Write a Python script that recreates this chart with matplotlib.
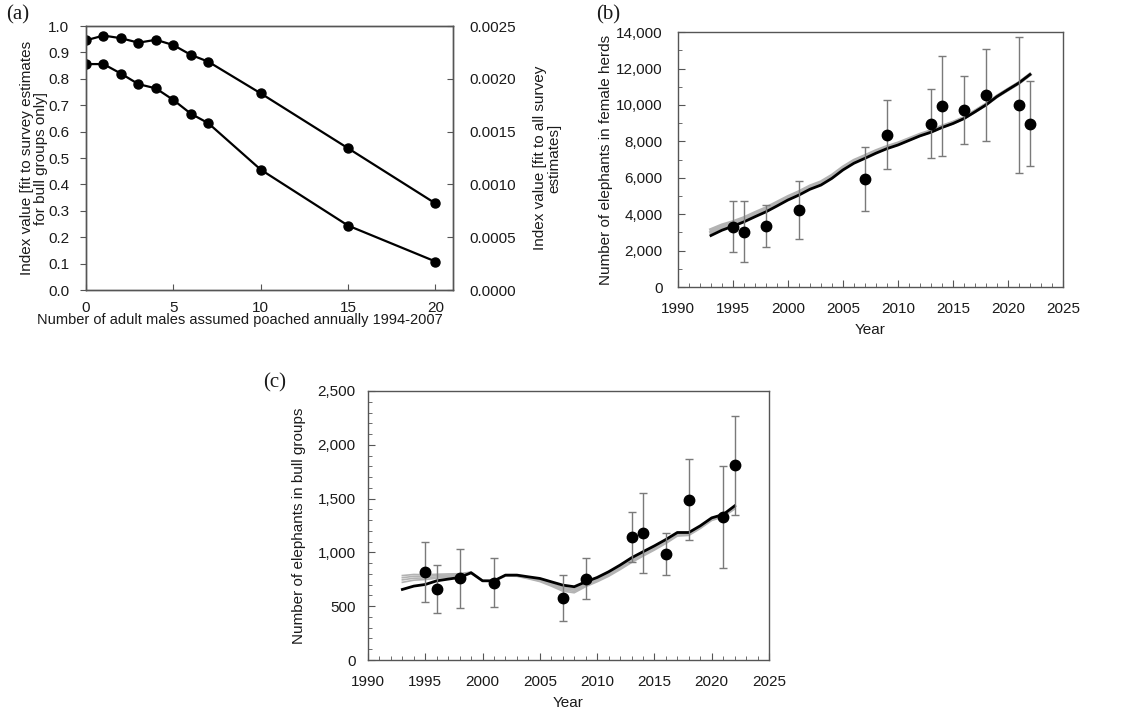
import matplotlib
matplotlib.use("Agg")
import matplotlib.pyplot as plt
from matplotlib.ticker import MultipleLocator, FuncFormatter

plt.rcParams['font.family'] = ['Liberation Sans', 'DejaVu Sans']
plt.rcParams['font.size'] = 11

# ---- (a) index value vs assumed poaching ----
poached = [0, 1, 2, 3, 4, 5, 6, 7, 10, 15, 20]
index_bull = [0.946, 0.964, 0.954, 0.937, 0.948, 0.928, 0.891, 0.865, 0.745, 0.537, 0.328]
index_all = [0.00214, 0.00214, 0.00205, 0.00195, 0.00191, 0.00180,
             0.00167, 0.00158, 0.00114, 0.00061, 0.00027]

# ---- model years ----
years = list(range(1993, 2023))

# ---- (b) female herds ----
fem_model = [2830, 3120, 3340, 3580, 3860, 4130, 4450, 4780, 5050, 5370,
             5600, 5970, 6430, 6800, 7070, 7350, 7600, 7800, 8050, 8300,
             8500, 8760, 8980, 9250, 9620, 10000, 10460, 10840, 11210, 11670]
fem_alt1 = [3150, 3400, 3580, 3800, 4080, 4340, 4650, 4960, 5230, 5540,
            5770, 6130, 6580, 6950, 7210, 7480, 7710, 7900, 8140, 8380,
            8580, 8830, 9040, 9300, 9660, 10030, 10470, 10850, 11210, 11670]
fem_alt2 = [3000, 3270, 3470, 3700, 3970, 4240, 4560, 4880, 5150, 5460,
            5690, 6060, 6510, 6880, 7140, 7420, 7660, 7850, 8100, 8340,
            8540, 8800, 9010, 9280, 9640, 10020, 10470, 10840, 11210, 11670]
fem_years = [1995, 1996, 1998, 2001, 2007, 2009, 2013, 2014, 2016, 2018, 2021, 2022]
fem_est = [3290, 3020, 3330, 4250, 5920, 8360, 8980, 9940, 9740, 10530, 9980, 8980]
fem_lo = [1900, 1350, 2190, 2630, 4160, 6470, 7090, 7200, 7880, 8030, 6290, 6650]
fem_hi = [4720, 4720, 4530, 5850, 7700, 10250, 10880, 12710, 11590, 13080, 13740, 11300]

# ---- (c) bull groups ----
bull_model = [656, 687, 702, 736, 752, 767, 811, 736, 736, 789,
              789, 773, 758, 727, 696, 681, 727, 767, 820, 882,
              950, 1006, 1061, 1120, 1185, 1185, 1247, 1321, 1352, 1432]
bull_alt1 = [785, 795, 792, 797, 800, 802, 818, 738, 736, 787,
             787, 768, 748, 712, 675, 662, 712, 755, 808, 870,
             936, 994, 1050, 1110, 1176, 1178, 1240, 1315, 1345, 1425]
bull_alt2 = [765, 778, 778, 784, 790, 794, 814, 737, 735, 785,
             784, 764, 742, 704, 664, 650, 702, 746, 798, 860,
             926, 984, 1040, 1101, 1168, 1172, 1234, 1309, 1340, 1418]
bull_alt3 = [745, 760, 763, 772, 780, 787, 810, 736, 734, 783,
             781, 760, 736, 696, 652, 638, 692, 737, 788, 850,
             916, 975, 1031, 1092, 1160, 1165, 1228, 1303, 1335, 1410]
bull_alt4 = [722, 742, 748, 760, 770, 780, 806, 735, 733, 781,
             778, 755, 729, 687, 640, 625, 682, 727, 778, 840,
             906, 965, 1022, 1083, 1152, 1158, 1222, 1297, 1330, 1403]
bull_years = [1995, 1996, 1998, 2001, 2007, 2009, 2013, 2014, 2016, 2018, 2021, 2022]
bull_est = [817, 659, 758, 715, 572, 755, 1142, 1179, 981, 1485, 1330, 1810]
bull_lo = [538, 439, 486, 492, 362, 563, 913, 811, 786, 1111, 854, 1352]
bull_hi = [1095, 885, 1033, 944, 786, 950, 1371, 1553, 1176, 1866, 1804, 2271]

spine_col = '#555555'
text_col = '#1a1a1a'
err_col = '#7a7a7a'
band_col = '#b3b3b3'

fig = plt.figure(figsize=(11.45, 7.14), dpi=100)


def style_axes(ax):
    for s in ax.spines.values():
        s.set_color(spine_col)
        s.set_linewidth(1.0)
    ax.tick_params(colors=spine_col, labelcolor=text_col, labelsize=11)


comma = FuncFormatter(lambda v, p: f'{int(v):,}')

# ===== panel (a) =====
axa = fig.add_axes([0.0751, 0.5938, 0.3205, 0.3697])
axa.plot(poached, index_bull, color='black', lw=1.6, marker='o', ms=6.5)
axa.set_xlim(0, 21)
axa.set_ylim(0, 1.0)
axa.xaxis.set_major_locator(MultipleLocator(5))
axa.yaxis.set_major_locator(MultipleLocator(0.1))
axa.yaxis.set_major_formatter(FuncFormatter(lambda v, p: f'{v:.1f}'))
axa.tick_params(axis='x', direction='in', length=4, pad=8)
axa.tick_params(axis='y', direction='out', length=4, pad=8)
style_axes(axa)
axa.set_ylabel('Index value [fit to survey estimates\nfor bull groups only]',
               color=text_col, fontsize=11, labelpad=0, linespacing=1.05)

axa2 = axa.twinx()
axa2.plot(poached, index_all, color='black', lw=1.6, marker='o', ms=6.5)
axa2.set_ylim(0, 0.0025)
axa2.yaxis.set_major_locator(MultipleLocator(0.0005))
axa2.yaxis.set_major_formatter(FuncFormatter(lambda v, p: f'{v:.4f}'))
axa2.tick_params(axis='y', direction='in', length=4, pad=12)
style_axes(axa2)
axa2.set_ylabel('Index value [fit to all survey\nestimates]', color=text_col,
                fontsize=11, labelpad=12, linespacing=1.05)
fig.text(240 / 1145, 1 - 320 / 714,
         'Number of adult males assumed poached annually 1994-2007',
         ha='center', va='center', fontsize=10.5, color=text_col)

# ===== panel (b) =====
axb = fig.add_axes([0.5921, 0.598, 0.3362, 0.357])
axb.plot(years, fem_alt1, color=band_col, lw=2.5)
axb.plot(years, fem_alt2, color=band_col, lw=2.5)
axb.plot(years, fem_model, color='black', lw=2.0)
fem_err = [[e - l for e, l in zip(fem_est, fem_lo)],
           [h - e for e, h in zip(fem_est, fem_hi)]]
axb.errorbar(fem_years, fem_est, yerr=fem_err, fmt='o', color='black', ms=7.5,
             ecolor=err_col, elinewidth=1.0, capsize=3, capthick=1.0)
axb.set_xlim(1990, 2025)
axb.set_ylim(0, 14000)
axb.xaxis.set_major_locator(MultipleLocator(5))
axb.xaxis.set_minor_locator(MultipleLocator(1))
axb.yaxis.set_major_locator(MultipleLocator(2000))
axb.yaxis.set_minor_locator(MultipleLocator(1000))
axb.yaxis.set_major_formatter(comma)
axb.tick_params(which='major', direction='in', length=5)
axb.tick_params(which='minor', direction='in', length=3, colors=spine_col)
axb.tick_params(axis='x', pad=11)
axb.tick_params(axis='y', pad=11)
style_axes(axb)
axb.set_xlabel('Year', color=text_col, fontsize=11, labelpad=5)
axb.set_ylabel('Number of elephants in female herds', color=text_col,
               fontsize=11, labelpad=2)

# ===== panel (c) =====
axc = fig.add_axes([0.3214, 0.0756, 0.3502, 0.3768])
for alt in (bull_alt1, bull_alt2, bull_alt3, bull_alt4):
    axc.plot(years, alt, color=band_col, lw=1.2)
axc.plot(years, bull_model, color='black', lw=2.0)
bull_err = [[e - l for e, l in zip(bull_est, bull_lo)],
            [h - e for e, h in zip(bull_est, bull_hi)]]
axc.errorbar(bull_years, bull_est, yerr=bull_err, fmt='o', color='black', ms=7.5,
             ecolor=err_col, elinewidth=1.0, capsize=3, capthick=1.0)
axc.set_xlim(1990, 2025)
axc.set_ylim(0, 2500)
axc.xaxis.set_major_locator(MultipleLocator(5))
axc.xaxis.set_minor_locator(MultipleLocator(1))
axc.yaxis.set_major_locator(MultipleLocator(500))
axc.yaxis.set_minor_locator(MultipleLocator(100))
axc.yaxis.set_major_formatter(comma)
axc.tick_params(which='major', direction='in', length=5)
axc.tick_params(which='minor', direction='in', length=3, colors=spine_col)
axc.tick_params(axis='x', pad=11)
axc.tick_params(axis='y', pad=9)
style_axes(axc)
axc.set_xlabel('Year', color=text_col, fontsize=11, labelpad=5)
axc.set_ylabel('Number of elephants in bull groups', color=text_col,
               fontsize=11, labelpad=8)

# panel letters
for lab, x, y in [('(a)', 18, 15), ('(b)', 608, 15), ('(c)', 275, 383)]:
    fig.text(x / 1145, 1 - y / 714, lab, family='Liberation Serif', fontsize=15,
             ha='center', va='center', color=text_col)

fig.savefig('out.png', dpi=100)
